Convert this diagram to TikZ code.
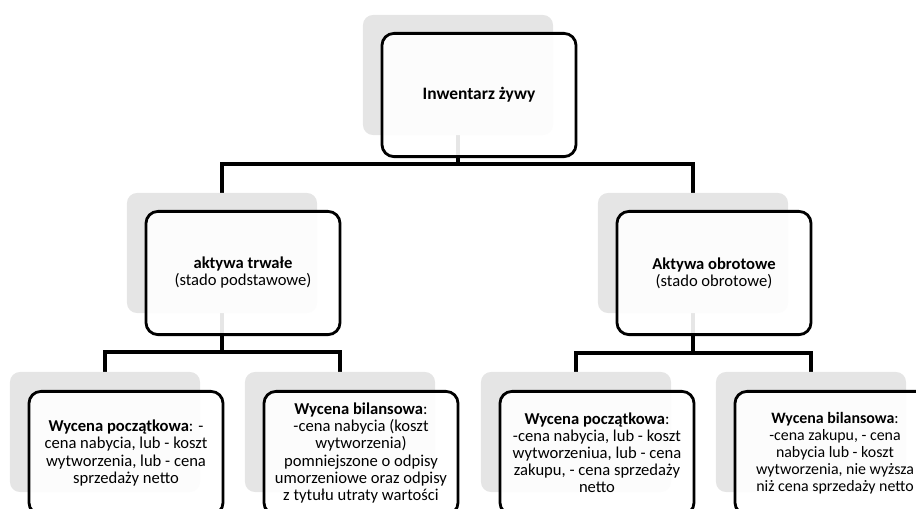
\documentclass[tikz,border=0pt]{standalone}
\usepackage{fontspec}
\setmainfont{Carlito}
\usetikzlibrary{backgrounds}
\begin{document}
\begin{tikzpicture}[x=0.025cm,y=-0.025cm,
  shadowbox/.style={fill=black!10,rounded corners=0.25cm,minimum width=4.75cm,minimum height=3cm,inner sep=0pt},
  mainbox/.style={draw=black,line width=2pt,fill=white,fill opacity=0.9,text opacity=1,rounded corners=0.3cm,minimum width=4.85cm,minimum height=3.08cm,align=center,font=\fontsize{11.8}{12.1}\selectfont},
  link/.style={draw=black,line width=2.3pt}]
\useasboundingbox (0,0) rectangle (916,508);
\clip (0,0) rectangle (916,508);
\node[shadowbox] (rootsh) at (458,75) {};
\node[mainbox,font=\fontsize{12.4}{13}\selectfont] (root) at ([shift={(21,20)}]rootsh.center) {\textbf{Inwentarz żywy}};
\node[shadowbox] (fixsh) at (222,253) {};
\node[mainbox] (fix) at ([shift={(21,20)}]fixsh.center) {\textbf{aktywa trwałe}\\(stado podstawowe)};
\node[shadowbox] (cursh) at (693,253) {};
\node[mainbox] (cur) at ([shift={(21,20)}]cursh.center) {\textbf{Aktywa obrotowe}\\(stado obrotowe)};
\node[shadowbox] (fixinsh) at (105,432) {};
\node[mainbox] (fixin) at ([shift={(21,21)}]fixinsh.center) {\textbf{Wycena początkowa}: -\\cena nabycia, lub - koszt\\wytworzenia, lub - cena\\sprzedaży netto};
\node[shadowbox] (fixbalsh) at (340,432) {};
\node[mainbox] (fixbal) at ([shift={(21,21)}]fixbalsh.center) {\textbf{Wycena bilansowa}:\\-cena nabycia (koszt\\wytworzenia)\\pomniejszone o odpisy\\umorzeniowe oraz odpisy\\z tytułu utraty wartości};
\node[shadowbox] (curinsh) at (576,432) {};
\node[mainbox] (curin) at ([shift={(21,21)}]curinsh.center) {\textbf{Wycena początkowa}:\\-cena nabycia, lub - koszt\\wytworzeniua, lub - cena\\zakupu, - cena sprzedaży\\netto};
\node[shadowbox] (curbalsh) at (811,432) {};
\node[mainbox,minimum width=5cm,font=\fontsize{11.3}{12.1}\selectfont] (curbal) at ([shift={(24,21)}]curbalsh.center) {\textbf{Wycena bilansowa}:\\-cena zakupu, - cena\\nabycia lub - koszt\\wytworzenia, nie wyższa\\niż cena sprzedaży netto};
\coordinate (bustop) at (0,164);
\coordinate (busleft) at (0,352);
\coordinate (busright) at (0,353);
\begin{scope}[on background layer]
\draw[link] (rootsh.center) -- (rootsh.center |- bustop) -| (fixsh.center);
\draw[link] (rootsh.center |- bustop) -| (cursh.center);
\draw[link] (fixsh.center) -- (fixsh.center |- busleft) -| (fixinsh.center);
\draw[link] (fixsh.center |- busleft) -| (fixbalsh.center);
\draw[link] (cursh.center) -- (cursh.center |- busright) -| (curinsh.center);
\draw[link] (cursh.center |- busright) -| (curbalsh.center);
\end{scope}
\end{tikzpicture}
\end{document}
